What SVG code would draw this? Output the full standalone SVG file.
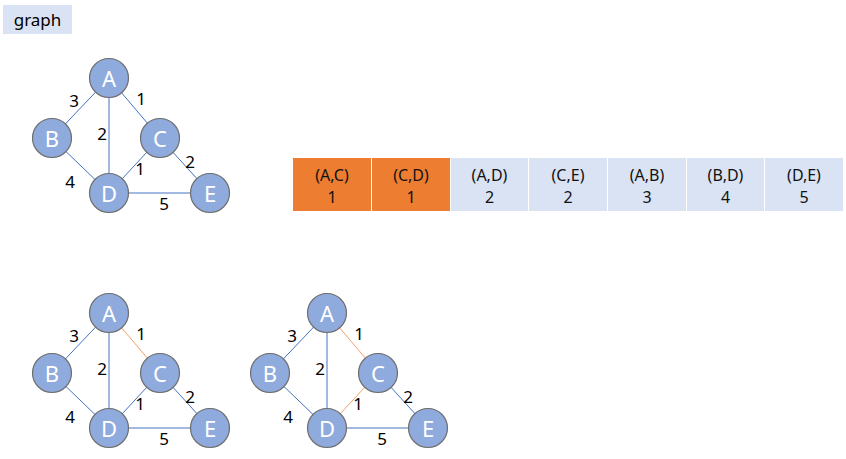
<svg xmlns="http://www.w3.org/2000/svg" width="846" height="459" viewBox="0 0 846 459">
<style>
.n circle{fill:#8FAADC;stroke:#6E6E6E;stroke-width:1.2}
.n text{fill:#fff;font-family:"Noto Sans","Open Sans","Liberation Sans",sans-serif;font-size:22px;text-anchor:middle;dominant-baseline:central}
.e line{stroke:#4472C4;stroke-width:1}
.e line.o{stroke:#F4A06A}
.w{font-family:"Noto Sans","Open Sans","Liberation Sans",sans-serif;font-size:17px;fill:#000;text-anchor:middle;dominant-baseline:central}
.t{font-family:"Noto Sans","Open Sans","Liberation Sans",sans-serif;font-size:16px;fill:#111;text-anchor:middle;dominant-baseline:central}
</style>
<rect x="3" y="5" width="69" height="29" fill="#DAE3F3"/>
<text x="37.5" y="19" class="w" style="font-size:17px">graph</text>

<!-- Graph 1 -->
<g id="g1-edges" class="e">
<line x1="109" y1="78" x2="52" y2="138"/>
<line x1="109" y1="78" x2="109" y2="193"/>
<line x1="109" y1="78" x2="160" y2="138"/>
<line x1="52" y1="138" x2="109" y2="193"/>
<line x1="160" y1="138" x2="109" y2="193"/>
<line x1="160" y1="138" x2="210" y2="193"/>
<line x1="109" y1="193" x2="210" y2="193"/>
</g>
<g id="g1-labels">
<text class="w" x="74" y="100">3</text>
<text class="w" x="141" y="98">1</text>
<text class="w" x="102" y="133">2</text>
<text class="w" x="190" y="161">2</text>
<text class="w" x="140" y="168">1</text>
<text class="w" x="70" y="181">4</text>
<text class="w" x="164" y="203">5</text>
</g>
<g id="g1-A" class="n"><circle cx="109" cy="78" r="19.5"/><text x="109" y="78">A</text></g>
<g id="g1-B" class="n"><circle cx="52" cy="138" r="19.5"/><text x="52" y="138">B</text></g>
<g id="g1-C" class="n"><circle cx="160" cy="138" r="19.5"/><text x="160" y="138">C</text></g>
<g id="g1-D" class="n"><circle cx="109" cy="193" r="19.5"/><text x="109" y="193">D</text></g>
<g id="g1-E" class="n"><circle cx="210" cy="193" r="19.5"/><text x="210" y="193">E</text></g>

<!-- Table -->
<g id="table">
<rect x="293" y="158" width="78" height="53" fill="#ED7D31"/>
<rect x="372" y="158" width="78" height="53" fill="#ED7D31"/>
<rect x="451" y="158" width="77" height="53" fill="#DAE3F3"/>
<rect x="529" y="158" width="78" height="53" fill="#DAE3F3"/>
<rect x="608" y="158" width="78" height="53" fill="#DAE3F3"/>
<rect x="687" y="158" width="77" height="53" fill="#DAE3F3"/>
<rect x="765" y="158" width="78" height="53" fill="#DAE3F3"/>
<text class="t" x="332" y="175">(A,C)</text><text class="t" x="332" y="197">1</text>
<text class="t" x="411" y="175">(C,D)</text><text class="t" x="411" y="197">1</text>
<text class="t" x="489.5" y="175">(A,D)</text><text class="t" x="489.5" y="197">2</text>
<text class="t" x="568" y="175">(C,E)</text><text class="t" x="568" y="197">2</text>
<text class="t" x="647" y="175">(A,B)</text><text class="t" x="647" y="197">3</text>
<text class="t" x="725.5" y="175">(B,D)</text><text class="t" x="725.5" y="197">4</text>
<text class="t" x="804" y="175">(D,E)</text><text class="t" x="804" y="197">5</text>
</g>

<!-- Graph 2 -->
<g transform="translate(0,235)">
<g id="g2-edges" class="e">
<line x1="109" y1="78" x2="52" y2="138"/>
<line x1="109" y1="78" x2="109" y2="193"/>
<line class="o" x1="109" y1="78" x2="160" y2="138"/>
<line x1="52" y1="138" x2="109" y2="193"/>
<line x1="160" y1="138" x2="109" y2="193"/>
<line x1="160" y1="138" x2="210" y2="193"/>
<line x1="109" y1="193" x2="210" y2="193"/>
</g>
<g id="g2-labels">
<text class="w" x="74" y="100">3</text>
<text class="w" x="141" y="98">1</text>
<text class="w" x="102" y="133">2</text>
<text class="w" x="190" y="161">2</text>
<text class="w" x="140" y="168">1</text>
<text class="w" x="70" y="181">4</text>
<text class="w" x="164" y="203">5</text>
</g>
<g id="g2-A" class="n"><circle cx="109" cy="78" r="19.5"/><text x="109" y="78">A</text></g>
<g id="g2-B" class="n"><circle cx="52" cy="138" r="19.5"/><text x="52" y="138">B</text></g>
<g id="g2-C" class="n"><circle cx="160" cy="138" r="19.5"/><text x="160" y="138">C</text></g>
<g id="g2-D" class="n"><circle cx="109" cy="193" r="19.5"/><text x="109" y="193">D</text></g>
<g id="g2-E" class="n"><circle cx="210" cy="193" r="19.5"/><text x="210" y="193">E</text></g>
</g>

<!-- Graph 3 -->
<g transform="translate(218,235)">
<g id="g3-edges" class="e">
<line x1="109" y1="78" x2="52" y2="138"/>
<line x1="109" y1="78" x2="109" y2="193"/>
<line class="o" x1="109" y1="78" x2="160" y2="138"/>
<line x1="52" y1="138" x2="109" y2="193"/>
<line class="o" x1="160" y1="138" x2="109" y2="193"/>
<line x1="160" y1="138" x2="210" y2="193"/>
<line x1="109" y1="193" x2="210" y2="193"/>
</g>
<g id="g3-labels">
<text class="w" x="74" y="100">3</text>
<text class="w" x="141" y="98">1</text>
<text class="w" x="102" y="133">2</text>
<text class="w" x="190" y="161">2</text>
<text class="w" x="140" y="168">1</text>
<text class="w" x="70" y="181">4</text>
<text class="w" x="164" y="203">5</text>
</g>
<g id="g3-A" class="n"><circle cx="109" cy="78" r="19.5"/><text x="109" y="78">A</text></g>
<g id="g3-B" class="n"><circle cx="52" cy="138" r="19.5"/><text x="52" y="138">B</text></g>
<g id="g3-C" class="n"><circle cx="160" cy="138" r="19.5"/><text x="160" y="138">C</text></g>
<g id="g3-D" class="n"><circle cx="109" cy="193" r="19.5"/><text x="109" y="193">D</text></g>
<g id="g3-E" class="n"><circle cx="210" cy="193" r="19.5"/><text x="210" y="193">E</text></g>
</g>
</svg>
